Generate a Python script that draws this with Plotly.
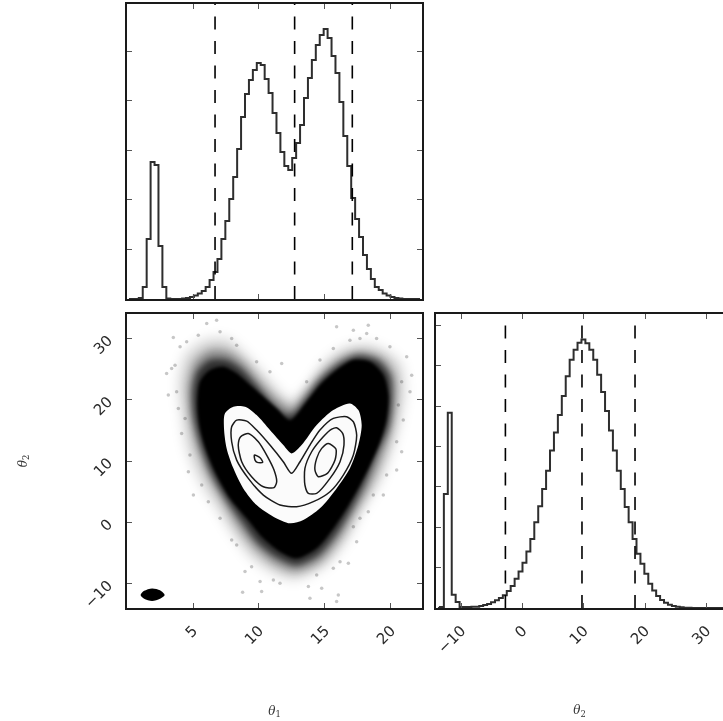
import numpy as np
import plotly.graph_objects as go

# ---------- data ----------
theta1_range = [0.0, 22.35]
theta2_range = [-14.09, 34.0]
theta1_counts = [0, 0, 0, 20, 242, 1210, 2762, 2701, 1068, 242, 10, 0, 0, 0, 10, 20, 40, 71, 111, 161,
                 242, 383, 544, 806, 1210, 1572, 2016, 2460, 3024, 3669, 4133, 4415, 4617, 4758, 4717,
                 4435, 4153, 3750, 3347, 2964, 2681, 2601, 2843, 3145, 3508, 4052, 4455, 4818, 5121,
                 5322, 5443, 5262, 4899, 4556, 3972, 3286, 2681, 2036, 1613, 1250, 887, 605, 403, 242,
                 181, 111, 71, 40, 20, 10, 0, 0, 0, 0, 0]
theta2_counts = [0, 25, 2823, 4839, 329, 148, 25, 25, 25, 33, 33, 49, 74, 99, 140, 189, 247, 313, 420,
                 543, 724, 905, 1119, 1399, 1712, 2123, 2520, 2950, 3400, 3900, 4346, 4780, 5251, 5744,
                 6150, 6400, 6570, 6650, 6560, 6400, 6150, 5780, 5350, 4880, 4400, 3900, 3400, 2950,
                 2500, 2123, 1712, 1341, 1095, 848, 601, 436, 296, 197, 132, 82, 49, 33, 16, 8, 8, 0,
                 0, 0, 0, 0, 0, 0, 0, 0, 0]
theta1_quantiles = [6.67, 12.7, 17.07]
theta2_quantiles = [-2.77, 9.72, 18.37]

x_ticks_t1 = [5, 10, 15, 20]
y_ticks_t2 = [-10, 0, 10, 20, 30]
x_ticks_t2 = [-10, 0, 10, 20, 30]
hist1_yticks = [1000, 2000, 3000, 4000, 5000]
hist2_yticks = [1000, 2000, 3000, 4000, 5000, 6000, 7000]

fuzz_outer_x = [12.6, 10.83, 9.32, 8.06, 6.79, 5.53, 4.52, 4.14, 3.89, 4.39, 5.78, 7.55, 9.07, 10.58, 11.84, 12.6, 13.61, 14.87, 16.64, 18.66, 20.68, 21.06, 20.68, 20.05, 19.17, 17.9, 16.89, 15.13, 12.6]
fuzz_outer_y = [-9.4, -8.06, -5.61, -2.08, 2.27, 6.62, 12.06, 17.5, 22.39, 27.28, 29.73, 30.0, 27.28, 23.75, 20.76, 19.94, 22.12, 25.92, 28.64, 28.91, 26.2, 21.3, 16.41, 11.51, 6.62, 2.27, -2.08, -6.97, -9.4]
fuzz_mid_x = [12.73, 11.09, 9.7, 8.43, 7.3, 6.16, 5.28, 4.77, 4.65, 5.15, 6.29, 7.68, 8.94, 10.2, 11.46, 12.47, 13.48, 14.75, 16.14, 17.65, 19.42, 20.3, 20.3, 19.92, 19.17, 18.28, 17.15, 16.14, 14.62, 12.73]
fuzz_mid_y = [-8.06, -6.7, -4.25, -0.72, 3.36, 7.71, 12.6, 17.5, 22.39, 26.2, 28.1, 27.83, 25.92, 22.66, 19.94, 18.58, 21.03, 24.29, 26.74, 27.83, 26.74, 23.75, 19.13, 14.5, 9.88, 5.53, 1.18, -2.62, -6.43, -8.06]
fuzz_inner_x = [12.8, 11.34, 9.95, 8.76, 7.55, 6.46, 5.66, 5.08, 4.97, 5.33, 6.29, 7.5, 8.61, 9.77, 10.83, 11.84, 12.47, 13.56, 14.62, 16.01, 17.4, 18.91, 19.87, 20.05, 19.8, 18.86, 18.03, 17.02, 15.88, 14.49, 12.8]
fuzz_inner_y = [-6.97, -5.72, -3.44, 0.0, 3.63, 7.71, 12.06, 16.95, 21.3, 24.56, 26.47, 26.47, 25.11, 22.39, 19.67, 17.77, 17.5, 20.21, 23.21, 25.76, 27.17, 26.47, 24.02, 20.21, 15.59, 10.97, 6.62, 2.27, -1.81, -5.34, -6.97]
solid_x = [12.85, 11.59, 10.33, 9.07, 7.8, 6.79, 6.04, 5.53, 5.33, 5.53, 6.29, 7.3, 8.31, 9.32, 10.33, 11.34, 12.35, 13.61, 14.62, 15.88, 17.15, 18.41, 19.42, 19.8, 19.67, 19.17, 18.41, 17.65, 16.64, 15.63, 14.37, 12.85]
solid_y = [-5.89, -4.8, -2.62, 0.64, 3.9, 7.71, 11.51, 15.32, 19.13, 22.93, 24.84, 25.38, 24.29, 22.39, 20.49, 18.58, 16.68, 19.67, 22.39, 24.84, 26.47, 26.2, 24.02, 20.76, 16.95, 13.14, 9.34, 6.08, 2.27, -1.0, -4.25, -5.89]
core_x = [12.35, 11.09, 9.82, 8.81, 8.06, 7.55, 7.35, 7.42, 8.06, 8.94, 9.82, 10.83, 11.84, 12.47, 13.23, 14.37, 15.63, 16.89, 17.53, 17.78, 17.53, 16.89, 15.88, 14.62, 13.36, 12.35]
core_y = [-0.18, 0.91, 2.81, 5.53, 8.8, 12.06, 15.32, 17.77, 18.85, 18.85, 17.5, 15.05, 12.6, 11.24, 12.6, 15.86, 18.31, 19.4, 18.31, 15.86, 12.6, 8.8, 5.53, 2.27, 0.37, -0.18]

contour_a_x = [12.47, 11.84, 10.83, 9.82, 9.07, 8.31, 7.93, 7.93, 8.31, 9.19, 10.33, 11.59, 12.85, 14.12, 15.38, 16.39, 17.15, 17.4, 17.15, 16.64, 15.63, 14.62, 13.86, 13.11, 12.47]
contour_a_y = [7.98, 9.88, 12.6, 15.05, 16.52, 16.68, 15.59, 13.14, 10.15, 7.17, 4.44, 2.81, 2.54, 3.36, 4.99, 7.71, 10.97, 14.23, 16.41, 17.22, 16.95, 15.05, 12.6, 9.88, 7.98]
contour_b_x = [9.19, 9.95, 10.58, 11.14, 11.34, 11.14, 10.33, 9.44, 8.69, 8.43, 8.61, 9.19]
contour_b_y = [14.5, 13.14, 10.97, 8.52, 6.62, 5.64, 5.8, 7.44, 9.88, 12.6, 13.96, 14.5]
contour_c_x = [15.88, 16.34, 16.44, 16.14, 15.38, 14.37, 13.74, 13.48, 13.48, 13.99, 14.87, 15.51, 15.88]
contour_c_y = [15.43, 14.5, 12.6, 9.88, 7.16, 4.72, 4.72, 6.08, 8.8, 11.51, 13.96, 15.21, 15.43]
contour_d_x = [15.25, 15.83, 15.76, 15.18, 14.49, 14.24, 14.37, 14.75, 15.25]
contour_d_y = [12.87, 11.95, 10.15, 7.98, 7.44, 8.52, 10.43, 12.06, 12.87]
contour_e_x = [9.65, 10.08, 10.28, 9.87, 9.7, 9.65]
contour_e_y = [10.97, 10.53, 9.77, 9.77, 10.15, 10.97]

blob_x = [1.03, 1.3, 1.9, 2.5, 2.85, 2.5, 1.9, 1.3, 1.03]
blob_y = [-11.87, -11.2, -10.8, -11.1, -11.87, -12.5, -12.85, -12.5, -11.87]

stray_x = [3.51, 4.02, 3.0, 3.38, 3.13, 3.89, 4.14, 4.65, 5.03, 6.16, 6.04, 6.79, 5.4, 7.93, 11.72, 15.88, 18.28, 18.16, 17.65, 17.15, 21.19, 21.57, 20.81, 21.44, 20.56, 20.93, 20.43, 20.81, 20.43, 19.67, 19.42, 18.66, 17.15, 17.4, 15.63, 16.77, 14.75, 13.74, 13.86, 16.01, 15.88, 10.2, 8.76, 8.94, 7.93, 10.08, 11.09, 11.59, 4.52, 7.05, 8.31, 9.82, 10.83, 13.61, 14.62, 15.63, 16.89, 18.91, 19.92, 3.64, 3.76, 4.4, 4.77, 5.66, 7.05, 8.31, 9.44, 17.65, 18.28, 16.14, 14.37]
stray_y = [30.17, 28.64, 24.29, 25.11, 20.76, 18.58, 14.5, 8.25, 4.44, 3.36, 32.45, 33.0, 30.55, 30.0, 25.92, 31.9, 32.18, 30.82, 30.0, 31.36, 27.01, 24.02, 22.93, 21.3, 19.13, 16.68, 13.14, 11.51, 8.52, 7.71, 4.44, 4.44, -0.72, -3.17, -7.52, -6.7, -10.78, -10.51, -12.41, -11.87, -12.95, -11.32, -11.43, -8.06, -2.9, -9.69, -9.42, -9.97, 29.46, 31.09, 28.91, 26.2, 24.56, 22.93, 26.47, 28.37, 29.73, 30.0, 28.64, 25.65, 21.3, 16.95, 10.97, 6.08, 0.64, -3.71, -7.25, 0.64, 1.73, -6.43, -8.6]

# ---------- styles ----------
INK = "#1a1a1a"
HIST = "#2e2e2e"
FONT = dict(family="DejaVu Sans", size=15, color="#2a2a2a")
TITLE_FONT = dict(family="DejaVu Serif", size=12, color="#333333")
DASH = "13px,11.5px"


def centres(lo, hi, n):
    edges = np.linspace(lo, hi, n + 1)
    return (edges[:-1] + edges[1:]) / 2


fig = go.Figure()


def hist(counts, rng, xa, ya):
    x = centres(rng[0], rng[1], len(counts))
    fig.add_trace(go.Scatter(x=x, y=counts, mode="lines", xaxis=xa, yaxis=ya, showlegend=False,
                             line=dict(color=HIST, width=2, shape="hvh")))


def quantiles(vals, top, xa, ya):
    for v in vals:
        fig.add_trace(go.Scatter(x=[v, v], y=[0, top], mode="lines", xaxis=xa, yaxis=ya, showlegend=False,
                                 line=dict(color="black", width=1.6, dash=DASH)))


def poly(x, y, color):
    fig.add_trace(go.Scatter(x=x, y=y, mode="lines", fill="toself", fillcolor=color, xaxis="x2", yaxis="y2",
                             showlegend=False, line=dict(width=0, shape="spline", smoothing=0.8)))


def contour(x, y):
    fig.add_trace(go.Scatter(x=x, y=y, mode="lines", xaxis="x2", yaxis="y2", showlegend=False,
                             line=dict(color=INK, width=1.5, shape="spline", smoothing=0.7)))


HIST1_TOP = 5948
HIST2_TOP = 7284

hist(theta1_counts, [0.0, 22.35], "x", "y")
quantiles(theta1_quantiles, HIST1_TOP, "x", "y")

fig.add_trace(go.Scatter(x=stray_x, y=stray_y, mode="markers", xaxis="x2", yaxis="y2", showlegend=False,
                         marker=dict(color="rgba(0,0,0,0.22)", size=3.5)))
poly(fuzz_outer_x, fuzz_outer_y, "rgba(0,0,0,0.16)")
poly(fuzz_mid_x, fuzz_mid_y, "rgba(0,0,0,0.38)")
poly(fuzz_inner_x, fuzz_inner_y, "rgba(0,0,0,0.65)")
poly(solid_x, solid_y, "#000000")
poly(core_x, core_y, "#fbfbfb")
poly(blob_x, blob_y, "#000000")
for cx, cy in [(contour_a_x, contour_a_y), (contour_b_x, contour_b_y), (contour_c_x, contour_c_y),
               (contour_d_x, contour_d_y), (contour_e_x, contour_e_y)]:
    contour(cx, cy)

hist(theta2_counts, [-14.09, 34.0], "x3", "y3")
quantiles(theta2_quantiles, HIST2_TOP, "x3", "y3")

axis_common = dict(showgrid=False, zeroline=False, showline=True, linecolor=INK, linewidth=2,
                   ticks="inside", ticklen=5, tickwidth=1, tickcolor="#555555", tickfont=FONT)

# plot area is inset by the margins; domains below are fractions of 596 x 604
fig.update_layout(
    width=723, height=721, autosize=False,
    margin=dict(l=127, r=0, t=4, b=113, pad=0),
    paper_bgcolor="white", plot_bgcolor="white", showlegend=False,
    xaxis=dict(domain=[0, 295 / 596], range=[0, 22.35], anchor="y", tickvals=x_ticks_t1,
               showticklabels=False, mirror="allticks", **axis_common),
    yaxis=dict(domain=[309 / 604, 1], range=[0, HIST1_TOP], anchor="x", tickvals=hist1_yticks,
               showticklabels=False, mirror="allticks", **axis_common),
    xaxis2=dict(domain=[0, 295 / 596], range=[0, 22.35], anchor="y2", tickvals=x_ticks_t1,
                tickangle=-45, mirror="allticks", ticklabelstandoff=6,
                title=dict(text="<i>θ</i><sub>1</sub>", font=TITLE_FONT, standoff=59), **axis_common),
    yaxis2=dict(domain=[0, 294 / 604], range=[-14, 34], anchor="x2", tickvals=y_ticks_t2,
                tickangle=-45, mirror="allticks", ticklabelstandoff=14,
                title=dict(text="<i>θ</i><sub>2</sub>", font=TITLE_FONT, standoff=51), **axis_common),
    xaxis3=dict(domain=[309 / 596, 1], range=[-14.09, 32.72], anchor="y3", tickvals=x_ticks_t2,
                tickangle=-45, mirror="allticks", ticklabelstandoff=6,
                title=dict(text="<i>θ</i><sub>2</sub>", font=TITLE_FONT, standoff=50), **axis_common),
    yaxis3=dict(domain=[0, 294 / 604], range=[0, HIST2_TOP], anchor="x3", tickvals=hist2_yticks,
                showticklabels=False, **axis_common),
)

# The page fills the window; the reference is a soft, resampled raster, so the density layers
# (drawn in order: strays, three fuzz rings, solid band, core, blob, contours) get a matching softness.
PAGE_STYLE = """
document.body.style.margin = '0';
document.documentElement.style.overflow = 'hidden';
document.body.style.overflow = 'hidden';
var layers = document.querySelectorAll('.subplot.x2y2 .scatterlayer .trace');
var soft = {1: 6, 2: 5, 3: 3, 4: 1.5, 5: 0.6, 6: 0.6};
Object.keys(soft).forEach(function (k) {
    if (layers[k]) { layers[k].style.filter = 'blur(' + soft[k] + 'px)'; }
});
document.body.style.filter = 'blur(0.6px)';
"""
fig.write_html("out.html", post_script=PAGE_STYLE, config=dict(displayModeBar=False))
